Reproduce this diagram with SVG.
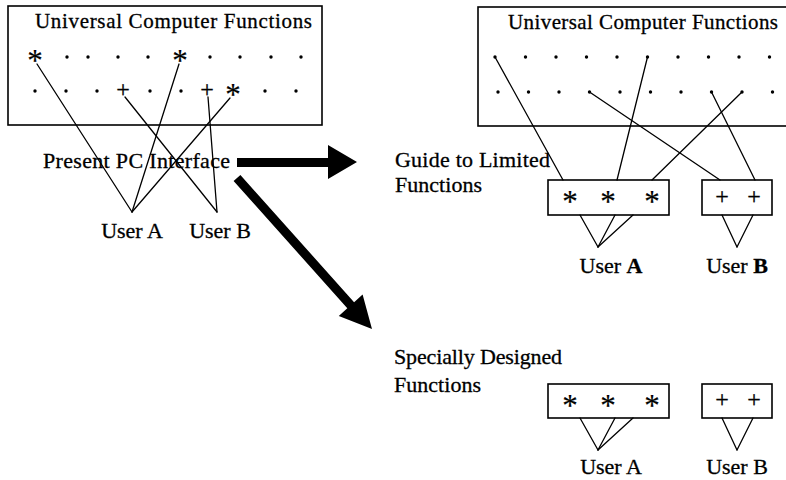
<svg xmlns="http://www.w3.org/2000/svg" width="786" height="480" viewBox="0 0 786 480">
  <style>
    .box { fill: none; stroke: #000; stroke-width: 1.6; }
    .ln { fill: none; stroke: #000; stroke-width: 1.3; stroke-linecap: round; }
    .t { font-family: "Liberation Serif", "Times New Roman", serif; fill: #000; stroke: #000; stroke-width: 0.3; }
    .ttl { font-size: 21px; }
    .lbl { font-size: 22px; }
    .star { font-family: "Liberation Serif", "Times New Roman", serif; font-size: 31px; text-anchor: middle; fill: #000; stroke: #000; stroke-width: 0.2; }
    .plus { font-family: "Liberation Serif", "Times New Roman", serif; font-size: 24px; text-anchor: middle; fill: #000; stroke: #000; stroke-width: 0.3; }
    .mid { text-anchor: middle; }
    .b { font-weight: bold; }
    .arrow { fill: #000; stroke: none; }
  </style>
  <defs>
    <circle id="dot" r="1.7" fill="#000"/>
  </defs>

  <!-- Left: the full function set behind today's PC interface -->
  <g id="universal-left">
    <rect class="box" x="8" y="6" width="314" height="119"/>
    <text class="t ttl" x="35" y="28" textLength="277" lengthAdjust="spacing">Universal Computer Functions</text>
    <!-- row 1 -->
    <text class="star" x="35" y="71">*</text>
    <use href="#dot" x="67" y="57"/><use href="#dot" x="88" y="57"/><use href="#dot" x="118" y="57"/><use href="#dot" x="148" y="57"/>
    <text class="star" x="180" y="71">*</text>
    <use href="#dot" x="210" y="57"/><use href="#dot" x="240" y="57"/><use href="#dot" x="271" y="57"/><use href="#dot" x="301" y="57"/>
    <!-- row 2 -->
    <use href="#dot" x="35" y="91"/><use href="#dot" x="66" y="91"/><use href="#dot" x="97" y="91"/>
    <text class="plus" x="123" y="97">+</text>
    <use href="#dot" x="150" y="91"/><use href="#dot" x="181" y="91"/>
    <text class="plus" x="207" y="97">+</text>
    <text class="star" x="233" y="105">*</text>
    <use href="#dot" x="265" y="91"/><use href="#dot" x="296" y="91"/>
  </g>

  <!-- Right: the same function set, reached through a guide -->
  <g id="universal-right">
    <rect class="box" x="478" y="7" width="320" height="119"/>
    <text class="t ttl" x="508" y="29" textLength="270" lengthAdjust="spacing">Universal Computer Functions</text>
    <use href="#dot" x="495" y="57"/><use href="#dot" x="525.5" y="57"/><use href="#dot" x="556" y="57"/><use href="#dot" x="586.5" y="57"/><use href="#dot" x="617" y="57"/>
    <use href="#dot" x="647.5" y="57"/><use href="#dot" x="678" y="57"/><use href="#dot" x="708.5" y="57"/><use href="#dot" x="739" y="57"/><use href="#dot" x="769.5" y="57"/>
    <use href="#dot" x="498" y="92"/><use href="#dot" x="528.5" y="92"/><use href="#dot" x="559" y="92"/><use href="#dot" x="589.5" y="92"/><use href="#dot" x="620" y="92"/>
    <use href="#dot" x="650.5" y="92"/><use href="#dot" x="681" y="92"/><use href="#dot" x="711.5" y="92"/><use href="#dot" x="742" y="92"/><use href="#dot" x="772.5" y="92"/>
  </g>

  <!-- Thin connectors between functions and users -->
  <g id="connectors" class="ln">
    <!-- present interface -->
    <line x1="37" y1="64" x2="132" y2="212"/>
    <line x1="179" y1="64" x2="132" y2="212"/>
    <line x1="230" y1="98" x2="132" y2="212"/>
    <line x1="125" y1="97" x2="217" y2="212"/>
    <line x1="208" y1="97" x2="217" y2="212"/>
    <!-- guide to limited functions -->
    <line x1="495" y1="57" x2="563" y2="180"/>
    <line x1="647.5" y1="57" x2="617" y2="180"/>
    <line x1="589.5" y1="92" x2="720" y2="180"/>
    <line x1="742" y1="92" x2="652" y2="180"/>
    <line x1="711.5" y1="92" x2="755" y2="180"/>
    <line x1="580" y1="215" x2="598" y2="247"/>
    <line x1="615" y1="215" x2="598" y2="247"/>
    <line x1="633" y1="215" x2="598" y2="247"/>
    <line x1="722" y1="215" x2="737" y2="247"/>
    <line x1="753" y1="215" x2="737" y2="247"/>
    <!-- specially designed functions -->
    <line x1="580" y1="418" x2="598" y2="450"/>
    <line x1="615" y1="418" x2="598" y2="450"/>
    <line x1="633" y1="418" x2="598" y2="450"/>
    <line x1="722" y1="418" x2="737" y2="450"/>
    <line x1="753" y1="418" x2="737" y2="450"/>
    <!-- heavy arrows -->
    <polygon class="arrow" points="237,158 328,158 328,145 357,162 328,179 328,167 237,167"/>
    <polygon class="arrow" points="240.4,175 354.1,302.2 362.6,294.5 372,329 338.8,315.9 347.3,308.2 233.6,181"/>
  </g>

  <g id="present-interface">
    <text class="t lbl" x="43" y="168" textLength="187" lengthAdjust="spacing">Present PC Interface</text>
  </g>
  <g id="left-user-a"><text class="t lbl mid" x="132" y="238">User A</text></g>
  <g id="left-user-b"><text class="t lbl mid" x="220" y="238">User B</text></g>

  <g id="guide-label">
    <text class="t lbl" x="395" y="167" textLength="155" lengthAdjust="spacing">Guide to Limited</text>
    <text class="t lbl" x="395" y="192" textLength="87" lengthAdjust="spacing">Functions</text>
  </g>
  <g id="guide-a-set">
    <rect class="box" x="548" y="180" width="121" height="35"/>
    <text class="star" x="570" y="212">*</text>
    <text class="star" x="608" y="212">*</text>
    <text class="star" x="652" y="212">*</text>
  </g>
  <g id="guide-b-set">
    <rect class="box" x="702" y="180" width="70" height="35"/>
    <text class="plus" x="722" y="204">+</text>
    <text class="plus" x="754" y="204">+</text>
  </g>
  <g id="guide-user-a"><text class="t lbl mid" x="611" y="273">User <tspan class="b">A</tspan></text></g>
  <g id="guide-user-b"><text class="t lbl mid" x="737" y="273">User <tspan class="b">B</tspan></text></g>

  <g id="designed-label">
    <text class="t lbl" x="394" y="364" textLength="168" lengthAdjust="spacing">Specially Designed</text>
    <text class="t lbl" x="394" y="392" textLength="87" lengthAdjust="spacing">Functions</text>
  </g>
  <g id="designed-a-set">
    <rect class="box" x="548" y="384" width="121" height="34"/>
    <text class="star" x="570" y="416">*</text>
    <text class="star" x="608" y="416">*</text>
    <text class="star" x="652" y="416">*</text>
  </g>
  <g id="designed-b-set">
    <rect class="box" x="702" y="384" width="70" height="34"/>
    <text class="plus" x="722" y="407">+</text>
    <text class="plus" x="754" y="407">+</text>
  </g>
  <g id="designed-user-a"><text class="t lbl mid" x="611" y="474">User A</text></g>
  <g id="designed-user-b"><text class="t lbl mid" x="737" y="474">User B</text></g>
</svg>
